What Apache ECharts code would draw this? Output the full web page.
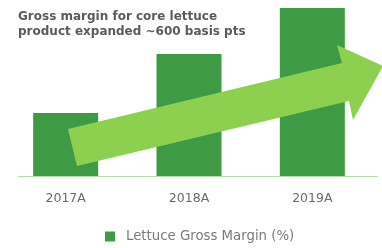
<!DOCTYPE html>
<html>
<head>
<meta charset="utf-8">
<script src="https://cdn.jsdelivr.net/npm/echarts@6/dist/echarts.min.js"></script>
<style>html,body{margin:0;padding:0;background:#fff;}#c{width:382px;height:248px;}</style>
</head>
<body>
<div id="c"></div>
<script>
var categories = ['2017A', '2018A', '2019A'];
var marginValues = [63, 122, 168];
var seriesName = 'Lettuce Gross Margin (%)';
var titleLines = ['Gross margin for core lettuce', 'product expanded ~600 basis pts'];

var chart = echarts.init(document.getElementById('c'), null, {renderer: 'canvas'});
chart.setOption({
  animation: false,
  title: {
    text: titleLines.join('\n'),
    left: 13, top: 4,
    textStyle: {fontFamily: 'DejaVu Sans', fontWeight: 'bold', fontSize: 12, color: '#5a5a5a', lineHeight: 15}
  },
  legend: {
    data: [{name: seriesName, icon: 'rect'}],
    bottom: 0, left: 100,
    itemWidth: 10, itemHeight: 10, itemGap: 12,
    textStyle: {fontFamily: 'DejaVu Sans', fontSize: 13.3, color: '#7a7a7a', padding: [0, 0, 0, 6]}
  },
  grid: {left: 4, right: 8, top: 8, bottom: 72},
  xAxis: {
    type: 'category', data: categories,
    axisLine: {show: false}, axisTick: {show: false},
    axisLabel: {fontFamily: 'DejaVu Sans', fontSize: 12.5, color: '#6a6a6a', margin: 16}
  },
  yAxis: {type: 'value', min: 0, max: 168, show: false, splitLine: {show: false}},
  series: [{
    name: seriesName, type: 'bar', data: marginValues, barWidth: 65,
    itemStyle: {color: '#3f9a45'}
  }],
  graphic: [
    {type: 'line', shape: {x1: 18, y1: 176.5, x2: 378, y2: 176.5}, style: {stroke: '#b9dcae', lineWidth: 1}, z: 10},
    {type: 'polygon', shape: {points: [[68,129],[342,63],[337,45],[383,66],[353,120],[349,101],[77,166]]},
     style: {fill: '#8dd04f'}, z: 20}
  ]
});
</script>
</body>
</html>
